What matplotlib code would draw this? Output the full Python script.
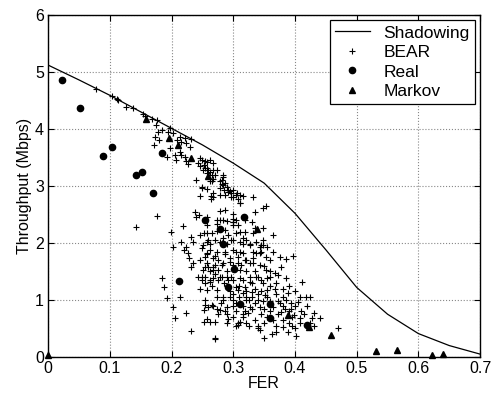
import matplotlib
matplotlib.use("Agg")
import matplotlib.pyplot as plt

plt.rcParams['font.family'] = ['Liberation Sans', 'DejaVu Sans']

# Shadowing (analytic curve)
shadow_fer = [0, 0.05, 0.1, 0.15, 0.2, 0.25, 0.3, 0.35, 0.4, 0.45, 0.5, 0.55, 0.6, 0.65, 0.7]
shadow_thr = [5.12, 4.86, 4.59, 4.30, 4.01, 3.72, 3.40, 3.05, 2.52, 1.88, 1.22, 0.75, 0.41, 0.20, 0.05]

# Real measurements
real_fer = [0.023, 0.051, 0.104, 0.089, 0.142, 0.152, 0.185, 0.170, 0.212, 0.254, 0.278,
            0.291, 0.301, 0.311, 0.318, 0.283, 0.359, 0.359, 0.419]
real_thr = [4.86, 4.37, 3.68, 3.52, 3.19, 3.25, 3.57, 2.88, 1.33, 2.40, 2.25,
            1.22, 1.54, 0.93, 2.45, 1.99, 0.93, 0.69, 0.56]

# Markov model
markov_fer = [0.0, 0.158, 0.196, 0.211, 0.231, 0.259, 0.339, 0.388, 0.423, 0.459, 0.532, 0.566, 0.622, 0.640]
markov_thr = [0.03, 4.17, 3.85, 3.71, 3.49, 3.18, 2.24, 0.74, 0.53, 0.39, 0.11, 0.12, 0.04, 0.05]

# BEAR simulation
bear_pts = [
    (0.078, 4.70), (0.103, 4.58), (0.113, 4.51), (0.111, 4.53), (0.126, 4.38), (0.138, 4.36),
    (0.154, 4.27), (0.157, 4.22), (0.168, 4.18), (0.175, 4.07), (0.176, 4.15), (0.178, 3.95),
    (0.185, 3.99), (0.173, 3.86), (0.171, 3.71), (0.180, 3.80), (0.194, 3.95), (0.198, 4.02),
    (0.203, 3.93), (0.208, 3.81), (0.213, 3.86), (0.216, 3.78), (0.222, 3.84), (0.224, 3.75),
    (0.230, 3.69), (0.232, 3.83), (0.198, 3.66), (0.205, 3.54), (0.192, 3.51), (0.207, 3.46),
    (0.213, 3.60), (0.216, 3.54), (0.221, 3.50), (0.224, 3.43), (0.227, 3.39), (0.246, 3.49),
    (0.249, 3.46), (0.243, 3.40), (0.246, 3.35), (0.257, 3.42), (0.262, 3.46), (0.267, 3.40),
    (0.251, 3.28), (0.257, 3.31), (0.262, 3.25), (0.267, 3.28), (0.273, 3.28), (0.240, 3.11),
    (0.249, 2.96), (0.267, 3.12), (0.278, 3.08), (0.281, 3.03), (0.284, 3.19), (0.285, 2.93),
    (0.289, 2.99), (0.294, 2.91), (0.297, 2.88), (0.300, 2.93), (0.306, 2.88), (0.311, 2.85),
    (0.316, 2.82), (0.267, 2.88), (0.246, 2.83), (0.300, 2.80), (0.252, 3.37), (0.254, 3.43),
    (0.270, 3.19), (0.284, 3.16), (0.284, 3.02), (0.292, 2.90), (0.305, 2.85), (0.332, 2.80),
    (0.264, 2.82), (0.262, 3.08), (0.254, 3.31), (0.259, 3.28), (0.257, 3.22), (0.265, 3.19),
    (0.281, 3.11), (0.286, 3.05), (0.265, 3.08), (0.249, 2.98), (0.257, 2.95), (0.278, 2.96),
    (0.292, 2.93), (0.308, 2.77), (0.297, 2.80), (0.286, 2.84), (0.278, 2.84), (0.267, 2.81),
    (0.264, 2.77), (0.311, 2.70), (0.348, 2.61), (0.284, 2.40), (0.289, 2.38), (0.278, 2.40),
    (0.300, 2.42), (0.330, 2.37), (0.273, 2.40), (0.254, 2.40), (0.257, 2.45), (0.286, 2.23),
    (0.300, 2.37), (0.305, 2.40), (0.308, 2.31), (0.335, 2.26), (0.348, 2.26), (0.257, 2.17),
    (0.259, 2.05), (0.270, 2.05), (0.284, 2.08), (0.289, 1.99), (0.300, 2.05), (0.311, 2.02),
    (0.316, 1.99), (0.321, 2.05), (0.327, 1.96), (0.337, 2.02), (0.345, 1.96), (0.354, 1.93),
    (0.249, 1.91), (0.262, 1.88), (0.273, 1.85), (0.286, 1.85), (0.305, 1.85), (0.316, 1.82),
    (0.332, 1.85), (0.343, 1.82), (0.254, 1.76), (0.267, 1.73), (0.276, 1.70), (0.294, 1.73),
    (0.308, 1.76), (0.319, 1.70), (0.332, 1.73), (0.353, 1.76), (0.257, 1.64), (0.270, 1.61),
    (0.284, 1.64), (0.300, 1.61), (0.313, 1.61), (0.327, 1.64), (0.343, 1.61), (0.251, 1.53),
    (0.262, 1.50), (0.276, 1.53), (0.289, 1.50), (0.311, 1.53), (0.321, 1.50), (0.335, 1.50),
    (0.353, 1.53), (0.254, 1.41), (0.267, 1.38), (0.281, 1.41), (0.297, 1.41), (0.311, 1.38),
    (0.327, 1.41), (0.340, 1.41), (0.354, 1.38), (0.143, 2.28), (0.177, 2.47), (0.199, 2.20),
    (0.203, 1.93), (0.216, 2.02), (0.218, 2.30), (0.220, 1.88), (0.223, 1.93), (0.232, 2.11),
    (0.235, 2.02), (0.238, 2.54), (0.239, 2.45), (0.244, 2.49), (0.246, 2.14), (0.251, 1.96),
    (0.257, 2.02), (0.227, 1.82), (0.229, 1.73), (0.235, 1.64), (0.232, 1.58), (0.246, 1.70),
    (0.257, 1.82), (0.259, 1.58), (0.249, 1.41), (0.243, 1.41), (0.254, 1.29), (0.262, 1.35),
    (0.246, 1.20), (0.257, 1.18), (0.184, 1.39), (0.188, 1.23), (0.193, 1.03), (0.213, 1.06),
    (0.203, 0.87), (0.205, 0.69), (0.224, 0.78), (0.232, 0.46), (0.252, 0.62), (0.262, 0.62),
    (0.270, 0.62), (0.270, 0.32), (0.254, 0.91), (0.259, 0.88), (0.267, 0.89), (0.273, 0.84),
    (0.276, 0.75), (0.286, 0.81), (0.292, 0.67), (0.300, 0.89), (0.308, 0.59), (0.305, 0.54),
    (0.316, 0.75), (0.273, 2.21), (0.281, 2.00), (0.292, 2.14), (0.300, 2.31), (0.311, 2.19),
    (0.267, 1.58), (0.278, 1.41), (0.292, 1.35), (0.305, 1.23), (0.316, 1.12), (0.273, 1.18),
    (0.284, 1.06), (0.300, 1.00), (0.321, 1.00), (0.365, 2.14), (0.348, 1.96), (0.343, 1.93),
    (0.337, 1.82), (0.345, 1.85), (0.386, 1.71), (0.397, 1.77), (0.378, 1.58), (0.367, 1.47),
    (0.373, 1.44), (0.386, 1.38), (0.411, 1.32), (0.359, 1.40), (0.348, 1.29), (0.354, 1.18),
    (0.367, 1.20), (0.381, 1.06), (0.389, 1.12), (0.408, 1.06), (0.418, 1.06), (0.424, 1.06),
    (0.394, 0.94), (0.405, 0.97), (0.384, 0.85), (0.378, 0.79), (0.373, 0.76), (0.394, 0.85),
    (0.399, 0.74), (0.408, 0.68), (0.430, 0.77), (0.440, 0.68), (0.427, 0.68), (0.408, 0.60),
    (0.470, 0.51), (0.370, 0.44), (0.362, 0.41), (0.381, 0.53), (0.389, 0.43), (0.402, 0.36),
    (0.350, 0.33), (0.340, 0.50), (0.343, 0.47), (0.311, 0.62), (0.308, 0.56), (0.319, 0.80),
    (0.324, 0.77), (0.327, 0.88), (0.335, 0.94), (0.343, 0.88), (0.348, 0.99), (0.359, 0.99),
    (0.365, 0.88), (0.373, 0.99), (0.351, 1.08), (0.340, 1.11), (0.330, 1.14), (0.321, 1.06),
    (0.319, 1.23), (0.308, 1.18), (0.300, 1.11), (0.316, 1.35), (0.327, 1.32), (0.337, 1.40),
    (0.254, 1.00), (0.265, 0.91), (0.273, 1.06), (0.283, 1.00), (0.289, 0.88), (0.278, 0.83),
    (0.252, 0.83), (0.257, 0.66), (0.300, 0.70), (0.316, 0.70), (0.270, 0.33), (0.249, 1.35),
    (0.262, 1.32), (0.276, 1.35), (0.289, 1.40), (0.300, 1.35), (0.254, 1.58), (0.267, 1.53),
    (0.281, 1.61), (0.294, 1.67), (0.308, 1.64), (0.321, 1.70), (0.332, 1.64), (0.311, 1.84),
    (0.300, 1.87), (0.286, 1.81), (0.270, 1.78), (0.257, 1.81), (0.262, 1.99), (0.278, 2.02),
    (0.297, 2.05), (0.316, 2.08), (0.327, 1.99), (0.348, 2.05), (0.252, 2.17), (0.265, 2.17),
    (0.305, 2.17), (0.319, 2.20), (0.332, 2.17), (0.257, 2.31), (0.273, 2.34), (0.300, 2.37),
    (0.319, 2.40), (0.335, 2.54), (0.353, 2.65), (0.278, 2.56), (0.286, 2.57), (0.311, 2.70),
    (0.300, 2.51),
    # dense lower-right part of the cloud
    (0.310, 1.25), (0.320, 1.15), (0.330, 1.05), (0.335, 1.20), (0.345, 1.15), (0.355, 1.05),
    (0.360, 1.25), (0.370, 1.10), (0.375, 0.95), (0.380, 0.90), (0.385, 1.00), (0.390, 0.80),
    (0.395, 0.70), (0.400, 0.90), (0.410, 0.80), (0.415, 0.75), (0.420, 0.90), (0.425, 0.60),
    (0.430, 0.55), (0.360, 0.80), (0.355, 0.70), (0.350, 0.60), (0.345, 0.75), (0.335, 0.65),
    (0.330, 0.85), (0.325, 1.00), (0.315, 0.90), (0.305, 0.95), (0.310, 1.05), (0.320, 0.60),
    (0.325, 0.55), (0.365, 0.65), (0.370, 0.55), (0.380, 0.65), (0.390, 0.60), (0.395, 0.55),
    (0.400, 0.50), (0.350, 0.85), (0.340, 1.00), (0.330, 1.30), (0.345, 1.35), (0.360, 1.50),
    (0.370, 1.30), (0.380, 1.20), (0.390, 1.25), (0.400, 1.15), (0.350, 1.60), (0.360, 1.70),
    (0.375, 1.75), (0.365, 1.85), (0.290, 1.25), (0.295, 1.15), (0.285, 1.30), (0.280, 0.95),
    (0.290, 0.75), (0.295, 1.05), (0.305, 0.80), (0.270, 1.45), (0.265, 1.25), (0.340, 0.55),
    (0.290, 0.60),
]
bear_fer = [p[0] for p in bear_pts]
bear_thr = [p[1] for p in bear_pts]

fig = plt.figure(figsize=(4.97, 3.94), dpi=100)
ax = fig.add_axes([0.097, 0.094, 0.869, 0.868])

ax.plot(shadow_fer, shadow_thr, '-', color='black', linewidth=0.9, label='Shadowing')
ax.plot(bear_fer, bear_thr, '+', color='black', markersize=5, markeredgewidth=0.8,
        linestyle='none', label='BEAR')
ax.plot(real_fer, real_thr, 'o', color='black', markersize=4.5, linestyle='none', label='Real')
ax.plot(markov_fer, markov_thr, '^', color='black', markersize=4.5, linestyle='none',
        label='Markov', clip_on=False)

ax.set_xlim(0, 0.7)
ax.set_ylim(0, 6)
ax.set_xticks([0, 0.1, 0.2, 0.3, 0.4, 0.5, 0.6, 0.7])
ax.set_xticklabels(['0', '0.1', '0.2', '0.3', '0.4', '0.5', '0.6', '0.7'])
ax.set_yticks([0, 1, 2, 3, 4, 5, 6])
ax.tick_params(direction='in', top=True, right=True, labelsize=11.5, length=4, width=0.8, pad=3)
ax.grid(True, linestyle=':', color='#888888', linewidth=0.8)
for s in ax.spines.values():
    s.set_linewidth(1.0)

ax.set_xlabel('FER', fontsize=11.5, labelpad=0)
ax.set_ylabel('Throughput (Mbps)', fontsize=11.5, labelpad=2)

leg = ax.legend(loc='upper right', fontsize=12.5, frameon=True, fancybox=False,
                edgecolor='black', framealpha=1, handlelength=2.0, borderaxespad=0.3,
                labelspacing=0.25, borderpad=0.3, handletextpad=0.8)
leg.get_frame().set_linewidth(0.9)

fig.savefig('out.png', dpi=100)
